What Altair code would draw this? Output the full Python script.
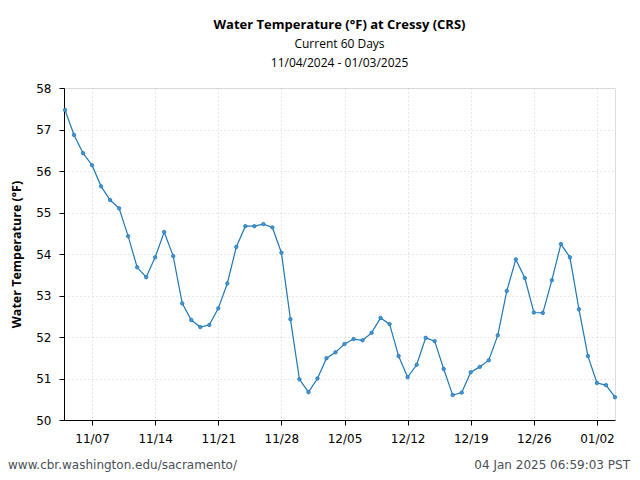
import altair as alt
import pandas as pd

# ---- data ----
start_date = "2024-11-04"
temps_f = [
    57.47, 56.87, 56.43, 56.14, 55.63, 55.30, 55.10, 54.43, 53.68, 53.44,
    53.92, 54.53, 53.95, 52.81, 52.41, 52.24, 52.29, 52.69, 53.29, 54.17,
    54.67, 54.67, 54.72, 54.64, 54.03, 52.43, 50.98, 50.67, 51.00, 51.49,
    51.63, 51.83, 51.95, 51.92, 52.10, 52.46, 52.31, 51.54, 51.03, 51.33,
    51.98, 51.90, 51.23, 50.60, 50.66, 51.15, 51.28, 51.44, 52.04, 53.11,
    53.87, 53.42, 52.59, 52.58, 53.37, 54.24, 53.92, 52.67, 51.54, 50.89,
    50.84, 50.55,
]
tick_dates = ["2024-11-07", "2024-11-14", "2024-11-21", "2024-11-28",
              "2024-12-05", "2024-12-12", "2024-12-19", "2024-12-26", "2025-01-02"]
y_ticks = [50, 51, 52, 53, 54, 55, 56, 57, 58]

title_text = "Water Temperature (°F) at Cressy (CRS)"
subtitle_lines = ["Current 60 Days", "11/04/2024 - 01/03/2025"]
y_title = "Water Temperature (°F)"
footer_left = "www.cbr.washington.edu/sacramento/"
footer_right = "04 Jan 2025 06:59:03 PST"

dates = pd.date_range(start_date, periods=len(temps_f), freq="D")
df = pd.DataFrame({"date": dates.strftime("%Y-%m-%dT%H:%M:%S"), "temp": temps_f})


def dt(s, hours=0):
    t = pd.Timestamp(s) + pd.Timedelta(hours=hours)
    return alt.DateTime(year=t.year, month=t.month, date=t.day, hours=t.hour, minutes=t.minute)


x_enc = alt.X(
    "date:T",
    scale=alt.Scale(domain=[dt("2024-11-04", -2.7), dt("2025-01-04")], nice=False),
    axis=alt.Axis(
        values=[dt(d) for d in tick_dates], format="%m/%d", title=None,
        labelFont="DejaVu Sans", labelFontSize=12, labelColor="black",
        tickSize=5, tickColor="black", domainColor="black", labelPadding=8,
        grid=True, gridColor="#cccccc", gridDash=[1, 3], gridWidth=1,
        labelFlush=False,
    ),
)
y_enc = alt.Y(
    "temp:Q",
    scale=alt.Scale(domain=[50, 58], nice=False, zero=False),
    axis=alt.Axis(
        values=y_ticks, title=y_title, titleFont="Open Sans", titleFontSize=12.5,
        titleFontWeight="bold", titleColor="black", titlePadding=12,
        labelFont="DejaVu Sans", labelFontSize=12, labelColor="black",
        tickSize=5, tickColor="black", domainColor="black", labelPadding=8,
        grid=True, gridColor="#cccccc", gridDash=[1, 3], gridWidth=1,
    ),
)

base = alt.Chart(df)
line = base.mark_line(color="#1f77b4", strokeWidth=1.2).encode(x=x_enc, y=y_enc)
pts = base.mark_point(filled=True, size=12, color="#4a95cf", stroke="#1f77b4",
                      strokeWidth=0.8, opacity=1).encode(x="date:T", y="temp:Q")

foot = alt.Chart(alt.Data(values=[{"a": 1}]))
fl = foot.mark_text(align="left", baseline="alphabetic", font="DejaVu Sans",
                    fontSize=12, color="#4a4f55").encode(
    x=alt.value(-56), y=alt.value(381), text=alt.value(footer_left))
fr = foot.mark_text(align="right", baseline="alphabetic", font="DejaVu Sans",
                    fontSize=12, color="#4a4f55").encode(
    x=alt.value(566), y=alt.value(381), text=alt.value(footer_right))

chart = alt.layer(line, pts, fl, fr).properties(
    width=551, height=332,
    title=alt.Title(
        title_text, subtitle=subtitle_lines, font="Open Sans", fontSize=13,
        fontWeight="bold", color="black", subtitleFont="Open Sans",
        subtitleFontSize=12, subtitleColor="black", subtitleLineHeight=19,
        subtitlePadding=7, anchor="middle", offset=13,
    ),
    autosize=alt.AutoSizeParams(type="none"),
    padding={"left": 56, "top": 80, "right": 17, "bottom": 52},
).configure_view(stroke="black", strokeWidth=1.2).configure(background="white")

chart.save("out.html", embed_options={"renderer": "svg", "actions": False})
